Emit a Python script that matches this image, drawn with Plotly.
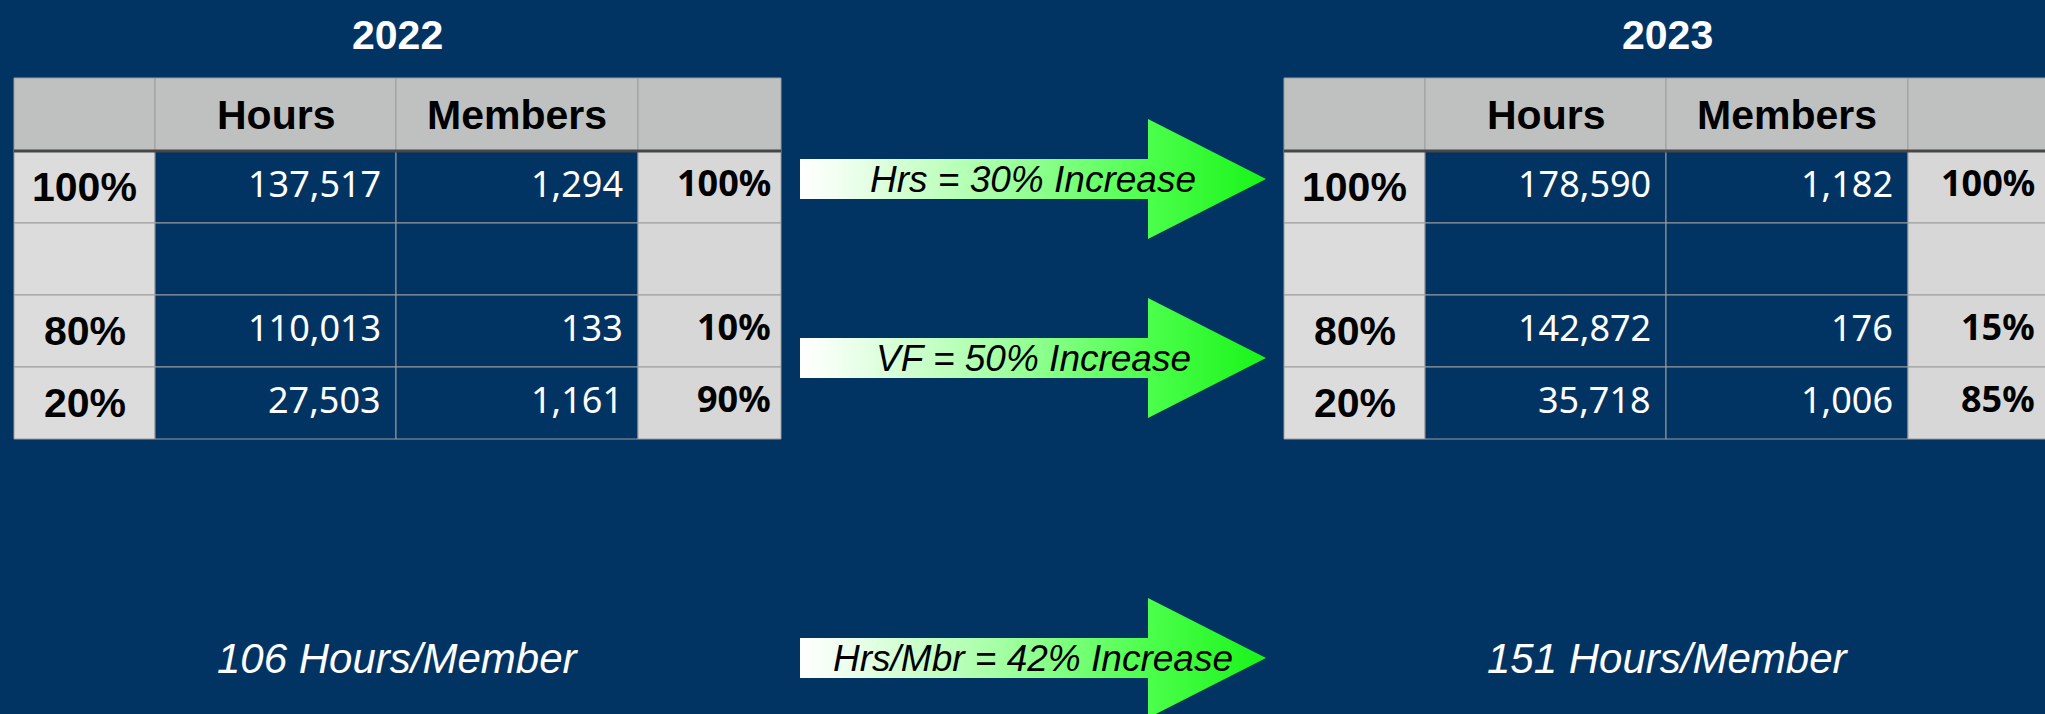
import plotly.graph_objects as go

# ---- data -------------------------------------------------------------
years = ["2022", "2023"]
column_headers = ["Hours", "Members"]
row_labels = ["100%", "", "80%", "20%"]

hours_2022 = [137517, None, 110013, 27503]
members_2022 = [1294, None, 133, 1161]
member_share_2022 = [100, None, 10, 90]

hours_2023 = [178590, None, 142872, 35718]
members_2023 = [1182, None, 176, 1006]
member_share_2023 = [100, None, 15, 85]

hours_per_member = [106, 151]
change_labels = ["Hrs = 30% Increase", "VF = 50% Increase", "Hrs/Mbr = 42% Increase"]

# ---- layout / style ---------------------------------------------------
W, H = 2045, 714
NAVY = "#013463"
HEADER_FILL = "#BFC1C0"
LEFT_FILL = "#DCDCDC"
RIGHT_FILL = "#D7D7D7"
GRID = "#9C9C9C"
RULE = "#474747"
ARIAL = "Liberation Sans, Arial, sans-serif"
SANS = "Noto Sans, Open Sans, sans-serif"
ARROW_GRADIENT = [[0, "#FFFFFF"], [0.08, "#F2FFF2"], [0.43, "#A4FFA4"],
                  [0.74, "#4EFF4E"], [1, "#18F418"]]

table_lefts = [14, 1284]
col_widths = [141, 241, 242, 143]
header_top, header_h, row_h = 78, 73, 72
title_y = 35

arrow_x0, arrow_head_x, arrow_tip_x = 800, 1148, 1266
shaft_half, head_half = 20, 60
arrow_cy = [179, 358, 658]
summary_y = 658

fig = go.Figure()
shapes, annotations = [], []


def add_text(x, y, text, size, color, family, xanchor="center", bold=False, italic=False):
    if bold:
        text = f"<b>{text}</b>"
    if italic:
        text = f"<i>{text}</i>"
    annotations.append(dict(
        x=x, y=y, xref="x", yref="y", text=text, showarrow=False,
        xanchor=xanchor, yanchor="middle",
        font=dict(size=size, color=color, family=family),
    ))


def cell(x0, y0, x1, y1, fill):
    shapes.append(dict(type="rect", xref="x", yref="y", x0=x0, y0=y0, x1=x1, y1=y1,
                       fillcolor=fill, line=dict(color=GRID, width=1), layer="below"))


def draw_table(left, year, hours, members, shares):
    edges = [left]
    for w in col_widths:
        edges.append(edges[-1] + w)
    center = (edges[0] + edges[-1]) / 2
    add_text(center, title_y, year, 41, "white", ARIAL, bold=True)

    # header row
    for c in range(4):
        cell(edges[c], header_top, edges[c + 1], header_top + header_h, HEADER_FILL)
    hy = header_top + header_h / 2
    for c, name in enumerate(column_headers, start=1):
        add_text((edges[c] + edges[c + 1]) / 2, hy, name, 41, "black", ARIAL, bold=True)

    # body rows
    body_top = header_top + header_h
    for r, label in enumerate(row_labels):
        y0 = body_top + r * row_h
        y1 = y0 + row_h
        ym = (y0 + y1) / 2
        cell(edges[0], y0, edges[1], y1, LEFT_FILL)
        cell(edges[1], y0, edges[2], y1, NAVY)
        cell(edges[2], y0, edges[3], y1, NAVY)
        cell(edges[3], y0, edges[4], y1, RIGHT_FILL)
        if label:
            add_text((edges[0] + edges[1]) / 2, ym, label, 41, "black", ARIAL, bold=True)
        if hours[r] is not None:
            add_text(edges[2] - 13, ym - 4, f"{hours[r]:,}", 36, "white", SANS, xanchor="right")
        if members[r] is not None:
            add_text(edges[3] - 13, ym - 4, f"{members[r]:,}", 36, "white", SANS, xanchor="right")
        if shares[r] is not None:
            add_text(min(edges[4], W) - 8, ym - 5, f"{shares[r]}%", 36, "black", SANS,
                     xanchor="right", bold=True)

    # heavy rule under the header
    shapes.append(dict(type="line", xref="x", yref="y", x0=edges[0], x1=edges[-1],
                       y0=body_top, y1=body_top, line=dict(color=RULE, width=3), layer="below"))
    return center


centers = [
    draw_table(table_lefts[0], years[0], hours_2022, members_2022, member_share_2022),
    draw_table(table_lefts[1], years[1], hours_2023, members_2023, member_share_2023),
]

# hours-per-member summaries under each table
for cx, hpm in zip(centers, hours_per_member):
    add_text(cx, summary_y, f"{hpm} Hours/Member", 42, "white", ARIAL, italic=True)

# gradient arrows carrying the year-over-year change labels
for cy, label in zip(arrow_cy, change_labels):
    xs = [arrow_x0, arrow_head_x, arrow_head_x, arrow_tip_x, arrow_head_x, arrow_head_x, arrow_x0, arrow_x0]
    ys = [cy - shaft_half, cy - shaft_half, cy - head_half, cy, cy + head_half, cy + shaft_half,
          cy + shaft_half, cy - shaft_half]
    fig.add_trace(go.Scatter(
        x=xs, y=ys, mode="lines", fill="toself", line=dict(width=0, color="rgba(0,0,0,0)"),
        fillgradient=dict(type="horizontal", colorscale=ARROW_GRADIENT),
        hoverinfo="skip", showlegend=False,
    ))
    add_text((arrow_x0 + arrow_tip_x) / 2, cy, label, 37, "black", ARIAL, italic=True)

fig.update_layout(
    width=W, height=H, autosize=False,
    margin=dict(l=0, r=0, t=0, b=0, pad=0),
    paper_bgcolor=NAVY, plot_bgcolor=NAVY,
    xaxis=dict(range=[0, W], visible=False, fixedrange=True),
    yaxis=dict(range=[H, 0], visible=False, fixedrange=True),
    shapes=shapes, annotations=annotations, showlegend=False,
)

fig.write_html("out.html")
